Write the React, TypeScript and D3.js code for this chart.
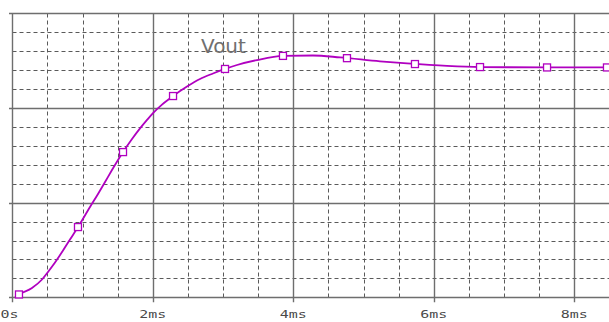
import React, { useEffect, useRef } from "react";
import * as d3 from "d3";

// Vout step response, time in ms, value in V
const timeMs = [
  0.04, 0.095, 0.28, 0.423, 0.508, 0.608, 0.722, 0.821, 0.935, 1.106, 1.22,
  1.32, 1.419, 1.505, 1.576, 1.704, 1.818, 1.918, 2.003, 2.131, 2.288, 2.487,
  2.672, 2.857, 3.028, 3.199, 3.483, 3.853, 4.28, 4.665, 5.234, 5.619, 6.188,
  6.658, 7.612, 8.49,
];
const vout = [
  0.0, 0.015, 0.049, 0.094, 0.134, 0.184, 0.247, 0.305, 0.371, 0.477, 0.546,
  0.609, 0.672, 0.725, 0.767, 0.836, 0.892, 0.937, 0.973, 1.018, 1.063, 1.113,
  1.153, 1.182, 1.206, 1.227, 1.253, 1.275, 1.277, 1.267, 1.246, 1.235, 1.222,
  1.216, 1.214, 1.214,
];

// square markers on the trace
const markerTime = [0.095, 0.935, 1.576, 2.288, 3.028, 3.853, 4.764, 5.732, 6.658, 7.612, 8.465];
const markerVal = [0.015, 0.371, 0.767, 1.063, 1.206, 1.275, 1.263, 1.232, 1.216, 1.214, 1.214];

const xMajor = [0, 2, 4, 6, 8];
const xLabels = ["0s", "2ms", "4ms", "6ms", "8ms"];
const xMinor = [0.5, 1, 1.5, 2.5, 3, 3.5, 4.5, 5, 5.5, 6.5, 7, 7.5, 8.5];
const yMajor = [0, 0.5, 1, 1.5];
const yMinor = [0.1, 0.2, 0.3, 0.4, 0.6, 0.7, 0.8, 0.9, 1.1, 1.2, 1.3, 1.4];

const traceName = "Vout";

export default function App() {
  const ref = useRef<SVGSVGElement>(null);

  useEffect(() => {
    const svg = d3.select(ref.current);
    svg.selectAll("*").remove();

    const left = 12.3;
    const top = 13.3;
    const bottom = 297.3;
    const right = 609;

    const x = d3.scaleLinear().domain([0, 8]).range([left, 574.3]);
    const y = d3.scaleLinear().domain([0, 1.5]).range([bottom, top]);
    const px = (v: number) => Math.round(v) + 0.5;

    const grid = svg.append("g");

    // minor dashed grid
    grid
      .selectAll("line.xminor")
      .data(xMinor)
      .enter()
      .append("line")
      .attr("x1", (d) => px(x(d)))
      .attr("x2", (d) => px(x(d)))
      .attr("y1", px(top))
      .attr("y2", px(bottom))
      .attr("stroke", "#5a5a5a")
      .attr("stroke-width", 1)
      .attr("stroke-dasharray", "4,3");

    grid
      .selectAll("line.yminor")
      .data(yMinor)
      .enter()
      .append("line")
      .attr("x1", px(left))
      .attr("x2", right)
      .attr("y1", (d) => px(y(d)))
      .attr("y2", (d) => px(y(d)))
      .attr("stroke", "#5a5a5a")
      .attr("stroke-width", 1)
      .attr("stroke-dasharray", "4,3");

    // major solid grid, sticking out a little past the axes
    grid
      .selectAll("line.xmajor")
      .data(xMajor)
      .enter()
      .append("line")
      .attr("x1", (d) => px(x(d)))
      .attr("x2", (d) => px(x(d)))
      .attr("y1", px(top))
      .attr("y2", bottom + 5)
      .attr("stroke", "#6e6e6e")
      .attr("stroke-width", 1.4);

    grid
      .selectAll("line.ymajor")
      .data(yMajor)
      .enter()
      .append("line")
      .attr("x1", 9)
      .attr("x2", right)
      .attr("y1", (d) => px(y(d)))
      .attr("y2", (d) => px(y(d)))
      .attr("stroke", "#6e6e6e")
      .attr("stroke-width", 1.4);

    // x tick labels
    svg
      .selectAll("text.xlab")
      .data(xMajor)
      .enter()
      .append("text")
      .attr("x", (d) => (d === 0 ? 0.5 : x(d)))
      .attr("y", 318)
      .attr("text-anchor", (d) => (d === 0 ? "start" : "middle"))
      .attr("font-family", "'DejaVu Sans Mono', monospace")
      .attr("font-size", 11)
      .attr("fill", "#4a4a4a")
      .attr("textLength", (d, i) => xLabels[i].length * 9)
      .attr("lengthAdjust", "spacingAndGlyphs")
      .text((d, i) => xLabels[i]);

    // trace
    const pts = timeMs.map((t, i) => [t, vout[i]] as [number, number]);
    const color = "#b000c0";
    svg
      .append("path")
      .datum(pts)
      .attr("fill", "none")
      .attr("stroke", color)
      .attr("stroke-width", 1.8)
      .attr(
        "d",
        d3
          .line<[number, number]>()
          .curve(d3.curveMonotoneX)
          .x((d) => x(d[0]))
          .y((d) => y(d[1]))
      );

    svg
      .selectAll("rect.mark")
      .data(markerTime)
      .enter()
      .append("rect")
      .attr("x", (d) => x(d) - 3.5)
      .attr("y", (d, i) => y(markerVal[i]) - 3.5)
      .attr("width", 7)
      .attr("height", 7)
      .attr("fill", "white")
      .attr("stroke", color)
      .attr("stroke-width", 1.3);

    // trace name
    svg
      .append("text")
      .attr("x", 201)
      .attr("y", 53)
      .attr("font-family", "'DejaVu Sans', sans-serif")
      .attr("font-size", 20)
      .attr("fill", "#707070")
      .text(traceName);
  }, []);

  return (
    <svg
      ref={ref}
      width={609}
      height={322}
      style={{ position: "absolute", left: 0, top: 0, background: "white" }}
    ></svg>
  );
}
